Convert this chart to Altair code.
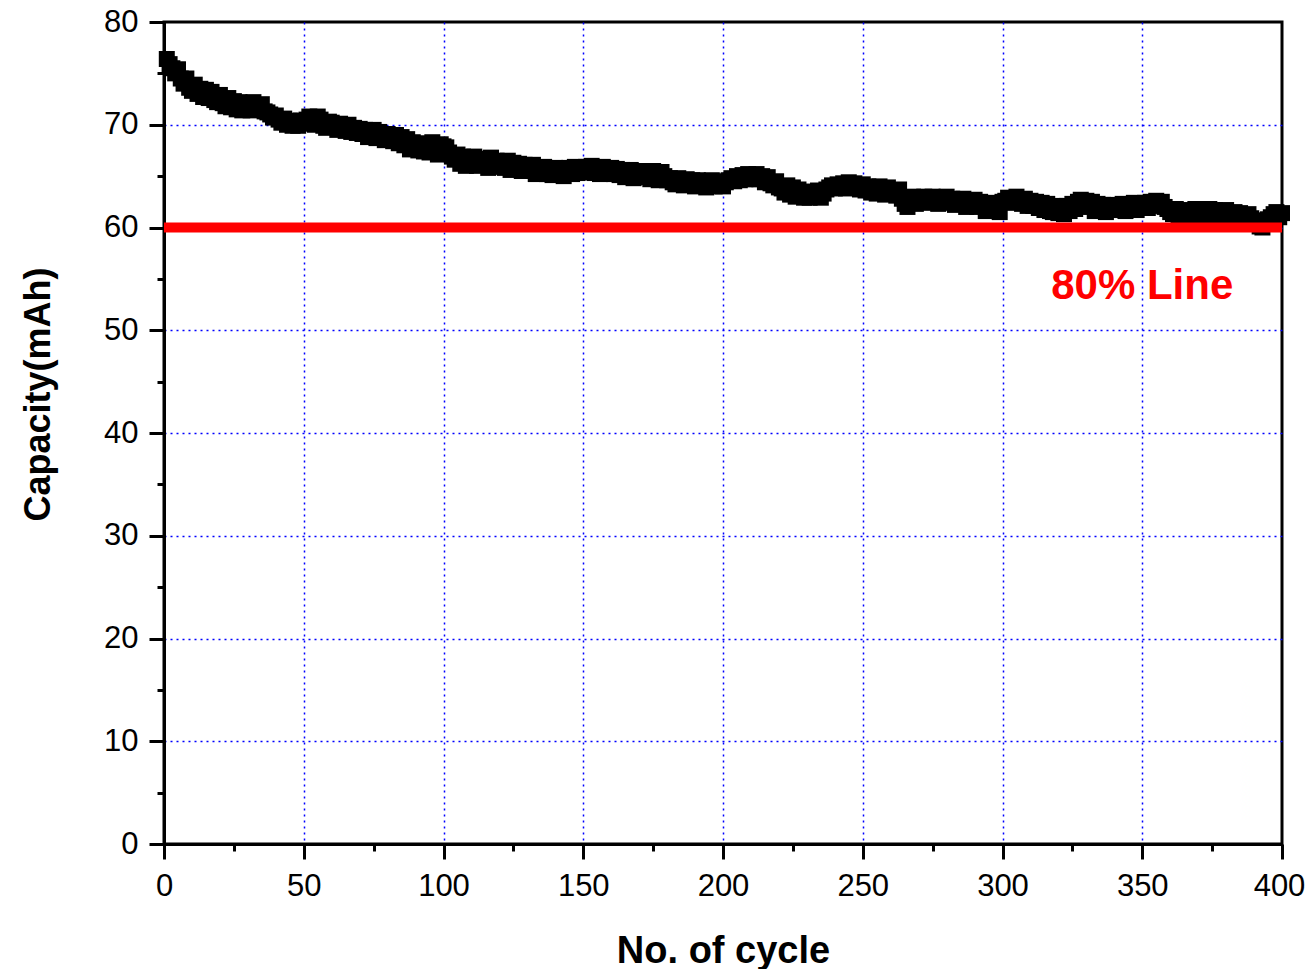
import altair as alt
import pandas as pd

cycles = list(range(1, 401))
capacity = [
    76.4, 75.9, 75.5, 75.0, 75.4, 74.5, 74.0, 74.5, 73.6, 73.3,
    73.9, 73.0, 73.5, 72.7, 73.4, 72.6, 73.2, 72.4, 72.2, 72.9,
    72.1, 71.8, 72.6, 71.7, 72.3, 71.5, 72.2, 71.4, 72.1, 71.7,
    71.4, 72.2, 71.6, 71.5, 72.0, 71.3, 71.2, 71.0, 70.7, 70.9,
    70.5, 70.2, 70.6, 70.0, 70.4, 69.9, 70.3, 69.9, 70.4, 70.1,
    70.5, 70.8, 70.4, 70.0, 70.8, 70.5, 69.9, 69.7, 70.3, 70.2,
    69.9, 69.5, 70.1, 69.6, 69.4, 70.0, 69.3, 69.7, 69.2, 69.6,
    69.1, 69.5, 68.8, 69.2, 69.5, 68.7, 69.3, 68.9, 68.5, 69.1,
    68.7, 68.4, 69.0, 68.2, 68.8, 68.0, 68.6, 67.6, 68.3, 67.8,
    67.5, 68.2, 67.4, 67.9, 67.3, 68.3, 67.7, 67.1, 68.1, 67.9,
    67.8, 67.3, 66.9, 66.6, 67.1, 66.2, 66.9, 66.0, 66.8, 66.3,
    66.9, 66.0, 66.7, 66.1, 66.6, 65.8, 66.8, 66.0, 66.5, 65.9,
    66.3, 65.8, 66.5, 65.6, 66.3, 65.7, 66.2, 65.5, 66.1, 65.6,
    65.9, 66.1, 65.2, 65.8, 65.3, 65.9, 65.2, 65.7, 65.1, 65.8,
    65.4, 65.7, 65.0, 65.6, 65.8, 65.2, 65.9, 65.3, 65.7, 65.4,
    65.9, 65.5, 66.0, 65.3, 65.8, 65.2, 65.9, 65.5, 65.3, 65.8,
    65.2, 65.7, 65.1, 65.6, 64.9, 65.5, 65.6, 64.8, 65.4, 65.0,
    65.5, 64.9, 65.4, 64.7, 65.5, 65.0, 64.6, 65.4, 65.0, 64.6,
    64.8, 64.4, 64.2, 64.8, 64.3, 64.1, 64.7, 64.2, 64.6, 64.0,
    64.6, 64.1, 64.5, 63.9, 64.4, 64.6, 64.0, 64.5, 64.2, 64.0,
    64.4, 64.6, 64.8, 64.5, 65.0, 64.6, 65.1, 64.7, 65.2, 64.7,
    65.0, 65.2, 64.7, 65.0, 64.4, 64.9, 64.3, 64.1, 64.5, 63.9,
    63.8, 63.4, 64.1, 63.2, 63.9, 63.0, 63.7, 63.4, 62.9, 63.3,
    62.9, 63.5, 63.1, 63.6, 62.9, 63.3, 63.7, 63.9, 64.1, 63.8,
    64.2, 63.9, 64.3, 63.8, 64.4, 64.0, 64.3, 63.9, 63.7, 64.2,
    63.6, 64.0, 63.4, 63.9, 63.3, 64.0, 63.6, 63.2, 63.9, 63.5,
    63.4, 63.1, 63.7, 62.8, 62.3, 62.0, 62.6, 63.0, 62.3, 62.9,
    62.5, 63.0, 62.4, 62.8, 63.0, 62.5, 62.3, 62.9, 62.5, 63.0,
    62.4, 62.8, 62.2, 62.7, 62.3, 62.8, 62.0, 62.6, 62.2, 62.7,
    62.0, 62.5, 62.1, 61.6, 62.4, 61.9, 61.7, 62.3, 61.5, 62.5,
    62.6, 62.9, 62.6, 62.4, 63.0, 62.5, 62.3, 62.8, 62.1, 62.6,
    62.1, 62.5, 61.9, 62.4, 61.7, 62.3, 61.6, 61.5, 62.1, 61.4,
    61.7, 61.3, 62.1, 61.6, 62.3, 61.8, 62.5, 62.7, 62.2, 62.6,
    62.0, 62.5, 61.6, 62.3, 61.8, 62.2, 61.5, 62.1, 61.7, 62.2,
    61.9, 61.7, 62.3, 61.6, 62.2, 61.9, 62.4, 61.7, 62.3, 62.0,
    62.4, 61.9, 62.5, 62.1, 62.6, 62.2, 62.5, 62.0, 61.8, 61.5,
    61.3, 61.8, 61.2, 61.7, 61.1, 61.6, 61.0, 61.5, 61.8, 61.3,
    61.6, 61.1, 61.5, 61.8, 61.2, 61.7, 61.0, 61.5, 61.2, 61.7,
    61.3, 61.0, 61.5, 60.9, 61.4, 61.1, 60.8, 61.3, 60.9, 60.7,
    60.4, 60.1, 60.0, 60.4, 60.8, 61.0, 61.3, 61.5, 61.0, 61.4,
]

x_tick_values = list(range(0, 401, 25))
y_tick_values = list(range(0, 81, 5))
limit_values = [60]
label_texts = ["80% Line"]
label_cycles = [350]
label_capacities = [54.3]

FONT = "Liberation Sans"

df = pd.DataFrame({"cycle": cycles, "capacity": capacity})
limit_df = pd.DataFrame({"limit": limit_values})
label_df = pd.DataFrame({"cycle": label_cycles, "capacity": label_capacities, "text": label_texts})

xs = alt.Scale(domain=[0, 400], nice=False, zero=False)
ys = alt.Scale(domain=[0, 80], nice=False)

x_axis = alt.Axis(
    values=x_tick_values,
    title="No. of cycle",
    labelExpr="datum.value % 50 === 0 ? datum.label : ''",
    labelOverlap=False,
    labelFlush=False,
    labelPadding=12,
    labelOffset={"condition": {"test": "datum.value === 400", "value": -3}, "value": 0},
    tickSize={"condition": {"test": "datum.value % 50 === 0", "value": 15}, "value": 7},
    grid=True,
    gridOpacity={"condition": {"test": "datum.value % 50 === 0 && datum.value > 0 && datum.value < 400", "value": 1}, "value": 0},
    titleY=118,
    titleBaseline="alphabetic",
    titleFontSize=38,
)
y_axis = alt.Axis(
    values=y_tick_values,
    title="Capacity(mAh)",
    labelExpr="datum.value % 10 === 0 ? datum.label : ''",
    labelOverlap=False,
    labelFlush=False,
    labelPadding=11,
    tickSize={"condition": {"test": "datum.value % 10 === 0", "value": 15}, "value": 7},
    grid=True,
    gridOpacity={"condition": {"test": "datum.value % 10 === 0 && datum.value > 0 && datum.value < 80", "value": 1}, "value": 0},
    titleX=-115,
    titleY=372,
    titleBaseline="alphabetic",
    titleFontSize=36,
)

points = alt.Chart(df).mark_square(size=256, color="black", opacity=1, filled=True).encode(
    x=alt.X("cycle:Q", scale=xs, axis=x_axis),
    y=alt.Y("capacity:Q", scale=ys, axis=y_axis),
)

limit = alt.Chart(limit_df).mark_rule(color="#ff0000", strokeWidth=10).encode(
    y=alt.Y("limit:Q", scale=ys),
)

label = alt.Chart(label_df).mark_text(
    color="#ff0000", fontSize=42, fontWeight="bold", font=FONT, align="center", baseline="middle"
).encode(
    x=alt.X("cycle:Q", scale=xs),
    y=alt.Y("capacity:Q", scale=ys),
    text="text:N",
)

chart = (
    alt.layer(points, limit, label)
    .properties(
        width=1118,
        height=822,
        autosize=alt.AutoSizeParams(type="none"),
        padding={"left": 156, "top": 14, "right": 24, "bottom": 125},
        background="white",
    )
    .configure_view(stroke="black", strokeWidth=3)
    .configure_axis(
        domainColor="black",
        domainWidth=3,
        tickColor="black",
        tickWidth=3,
        labelFont=FONT,
        labelFontSize=31,
        labelColor="black",
        titleFont=FONT,
        titleFontWeight="bold",
        titleColor="black",
        gridColor="#0000ff",
        gridDash=[2, 4],
        gridWidth=1.5,
    )
)

chart.save("out.html", embed_options={"renderer": "svg", "actions": False})
